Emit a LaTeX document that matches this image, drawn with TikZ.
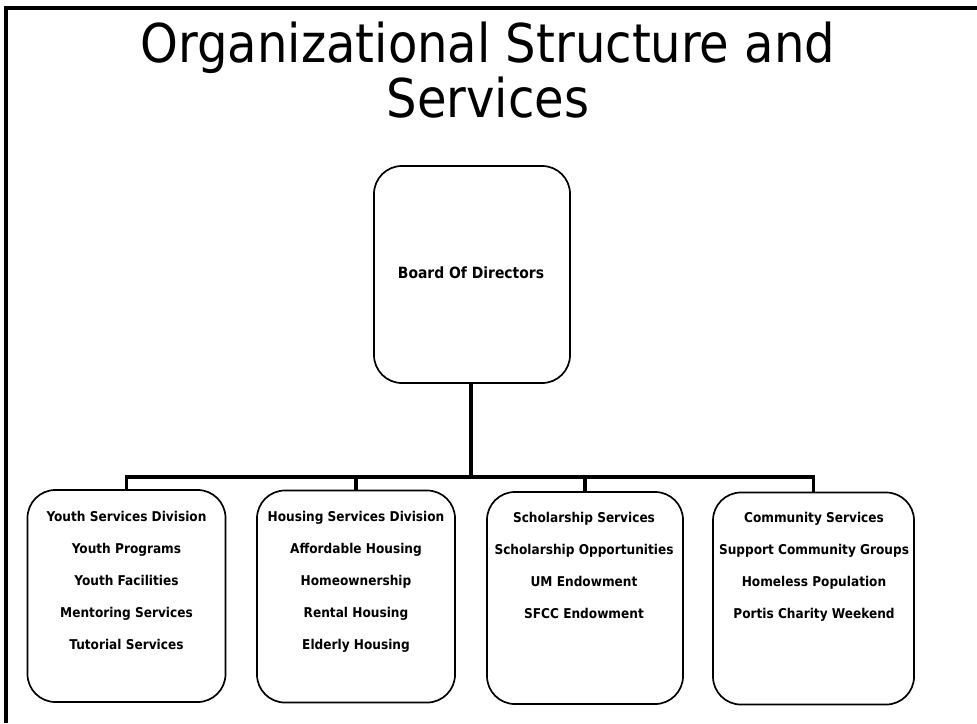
\documentclass[tikz,border=0pt]{standalone}
\usepackage{fontspec}
\setmainfont{DejaVu Sans Condensed}
\usetikzlibrary{positioning}

\begin{document}
\begin{tikzpicture}[x=0.025cm,y=-0.025cm,
							unitbox/.style={draw=black, line width=1.2pt, rounded corners=0.7cm, minimum width=4.95cm, minimum height=5.3cm, inner sep=0pt},
							unittext/.style={anchor=north, align=center, inner sep=0pt, font=\fontsize{9.6}{22.75}\selectfont\bfseries},
							link/.style={line width=2.2pt},
							]
							\useasboundingbox (0,0) rectangle (977,723);
							%Frame
							\draw[line width=2.2pt] (6,723) -- (6,8) -- (977,8);
							%Nodes
							\node[align=center, font=\fontsize{38}{39}\selectfont] (title) at (488,70) {Organizational Structure and\\Services};
							\node[unitbox, minimum width=4.9cm, minimum height=5.425cm] (board) at (472,274.5) {};
							\node[font=\fontsize{11}{13}\selectfont\bfseries] (boardtext) at (471,273) {Board Of Directors};
							\node[unitbox] (youth) 	at 	(126.5,596) {};
							\node[unitbox] (housing) 	at 	(356,596.5) {};
							\node[unitbox, minimum width=4.9cm] (scholar) 	at 	(585,598) {};
							\node[unitbox, minimum width=5.025cm] (community) 	at 	(813.5,598.5) {};
							\node[unittext] (youthtext) 	at 	(126.5,511) {Youth Services Division\\Youth Programs\\Youth Facilities\\Mentoring Services\\Tutorial Services};
							\node[unittext] (housingtext) 	at 	(356,511) {Housing Services Division\\Affordable Housing\\Homeownership\\Rental Housing\\Elderly Housing};
							\node[unittext] (scholartext) 	at 	(584,512) {Scholarship Services\\Scholarship Opportunities\\UM Endowment\\SFCC Endowment};
							\node[unittext] (communitytext) 	at 	(814,512) {Community Services\\Support Community Groups\\Homeless Population\\Portis Charity Weekend};
							\coordinate (bar) at (471,477);
							%Links
							\draw[link] (board.south -| bar) -- (bar);
							\draw[link] (youth.north) |- (bar) -| (community.north);
							\draw[link] (housing.north) -- (housing.north |- bar);
							\draw[link] (scholar.north) -- (scholar.north |- bar);
\end{tikzpicture}
\end{document}
